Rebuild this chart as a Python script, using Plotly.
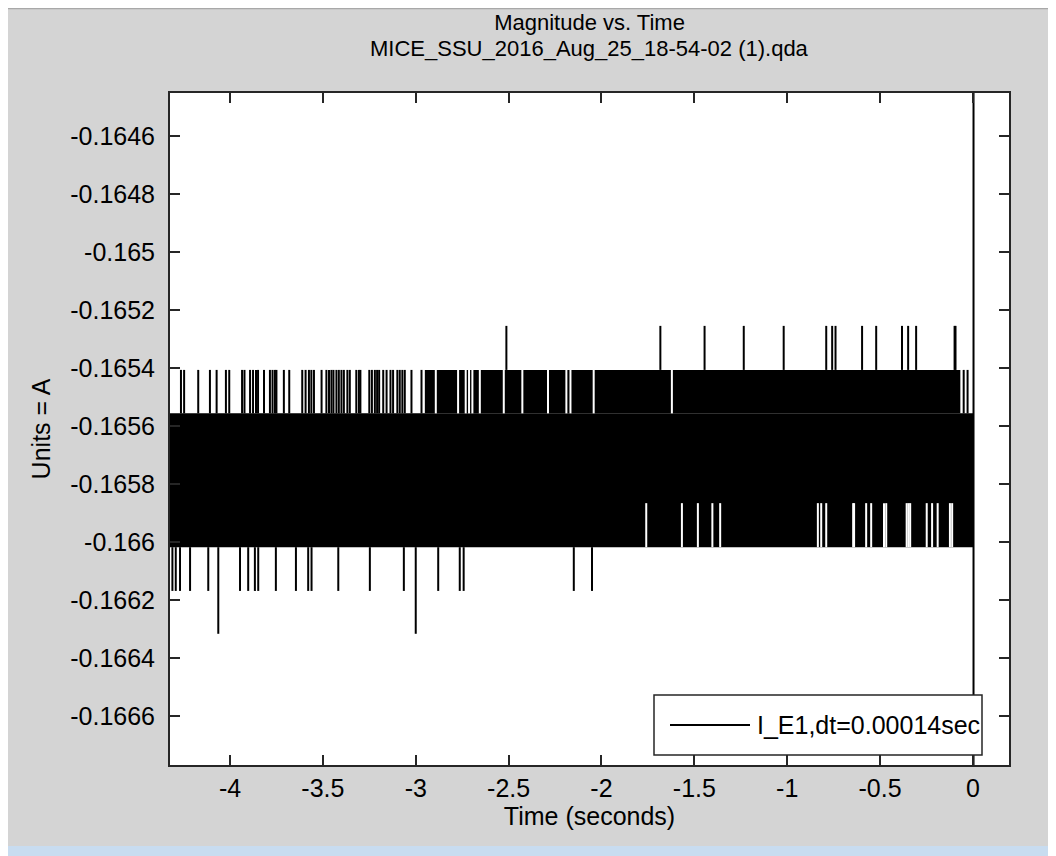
import plotly.graph_objects as go

# ---------------- data ----------------
title_lines = ["Magnitude vs. Time", "MICE_SSU_2016_Aug_25_18-54-02 (1).qda"]
x_title = "Time (seconds)"
y_title = "Units = A"
series_name = "I_E1,dt=0.00014sec"

x_tick_vals = [-4, -3.5, -3, -2.5, -2, -1.5, -1, -0.5, 0]
x_tick_text = ["-4", "-3.5", "-3", "-2.5", "-2", "-1.5", "-1", "-0.5", "0"]
y_tick_vals = [-0.1666, -0.1664, -0.1662, -0.1660, -0.1658, -0.1656,
               -0.1654, -0.1652, -0.1650, -0.1648, -0.1646]
y_tick_text = ["-0.1666", "-0.1664", "-0.1662", "-0.166", "-0.1658", "-0.1656",
               "-0.1654", "-0.1652", "-0.165", "-0.1648", "-0.1646"]

x_range = [-4.323, 0.194]
y_range = [-0.16677, -0.16445]

# quantised current levels of the signal (A)
level_high = -0.165254
level_upper = -0.165406
level_band_top = -0.165556
level_inner_low = -0.165866
level_band_bottom = -0.166018
level_low = -0.166169
level_very_low = -0.166317
level_off_top = -0.1640      # signal leaves the window at the end of record
level_off_bottom = -0.1672

# time span of the record and of the region where the upper level is dense
record_start = -4.323
record_end = 0.003
upper_dense_start = -2.951
upper_dense_end = -0.068

# sample times (s) of excursions to each level
upper_spike_times = [-4.264, -4.247, -4.171, -4.108, -4.072, -4.022, -4.004, -3.935,
                     -3.922, -3.892, -3.876, -3.860, -3.849, -3.817, -3.785, -3.771,
                     -3.758, -3.750, -3.710, -3.681, -3.611, -3.593, -3.575, -3.562,
                     -3.548, -3.507, -3.481, -3.467, -3.454, -3.443, -3.427, -3.414,
                     -3.400, -3.387, -3.368, -3.355, -3.320, -3.306, -3.298, -3.250,
                     -3.236, -3.220, -3.208, -3.197, -3.175, -3.157, -3.136, -3.122,
                     -3.099, -3.086, -3.072, -3.059, -3.023, -2.969, -0.050, -0.029]
upper_gap_times = [-2.892, -2.772, -2.731, -2.713, -2.695, -2.655, -2.526, -2.426,
                   -2.288, -2.189, -2.167, -2.042, -1.621]
high_spike_times = [-2.512, -1.683, -1.445, -1.234, -1.019, -0.790, -0.758, -0.740,
                    -0.597, -0.521, -0.382, -0.349, -0.306, -0.099, -0.094]
low_spike_times = [-4.310, -4.292, -4.269, -4.215, -4.117, -3.946, -3.902, -3.866,
                   -3.848, -3.753, -3.645, -3.579, -3.561, -3.417, -3.247, -3.064,
                   -2.879, -2.763, -2.742, -2.149, -2.051]
very_low_spike_times = [-4.063, -3.000]
lower_gap_times = [-1.759, -1.567, -1.481, -1.403, -1.361, -0.835, -0.817, -0.790,
                   -0.645, -0.640, -0.575, -0.548, -0.479, -0.467, -0.357, -0.347,
                   -0.338, -0.249, -0.220, -0.190, -0.124, -0.112]

# ---------------- styling ----------------
FONT = "Liberation Sans"
FS = 25
FS_TITLE = 22
INK = "#000000"
AXC = "#262626"
W, H = 1056, 856
OFF = 8                      # page offset of the figure (body margin)
ML, MR, MT, MB = 162, 55, 85, 99


def segs(times, y0, y1):
    xs, ys = [], []
    for t in times:
        xs += [t, t, None]
        ys += [y0, y1, None]
    return xs, ys


def rect(t0, t1, y0, y1):
    return [t0, t1, t1, t0, t0], [y0, y0, y1, y1, y0]


fig = go.Figure()

# solid body of the rapidly toggling signal
bx, by = rect(record_start, record_end, level_band_bottom, level_band_top)
fig.add_trace(go.Scatter(x=bx, y=by, mode="lines", fill="toself", fillcolor=INK,
                         line=dict(width=0, color=INK), hoverinfo="skip", showlegend=False))
ux, uy = rect(upper_dense_start, upper_dense_end, level_band_top, level_upper)
fig.add_trace(go.Scatter(x=ux, y=uy, mode="lines", fill="toself", fillcolor=INK,
                         line=dict(width=0, color=INK), hoverinfo="skip", showlegend=False))

# columns where the signal did not reach a level
gx1, gy1 = segs(lower_gap_times, level_band_bottom, level_inner_low)
gx2, gy2 = segs(upper_gap_times, level_band_top, level_upper)
fig.add_trace(go.Scatter(x=gx1 + gx2, y=gy1 + gy2, mode="lines",
                         line=dict(width=2, color="white"), hoverinfo="skip", showlegend=False))

# excursions
sx, sy = [], []
for times, a, b in [(upper_spike_times, level_band_top, level_upper),
                    (high_spike_times, level_upper, level_high),
                    (low_spike_times, level_band_bottom, level_low),
                    (very_low_spike_times, level_band_bottom, level_very_low),
                    ([record_end], level_off_bottom, level_off_top)]:
    xx, yy = segs(times, a, b)
    sx += xx
    sy += yy
fig.add_trace(go.Scatter(x=sx, y=sy, mode="lines", name=series_name,
                         line=dict(width=2, color=INK), showlegend=False))

axis_common = dict(
    showgrid=False, zeroline=False, showline=True, linecolor=AXC, linewidth=2,
    mirror="ticks", ticks="inside", ticklen=10, tickwidth=1.5, tickcolor=AXC,
    tickfont=dict(family=FONT, size=FS, color=INK),
)

fig.update_xaxes(range=x_range, tickmode="array", tickvals=x_tick_vals, ticktext=x_tick_text,
                 title=dict(text=x_title, font=dict(family=FONT, size=FS, color=INK), standoff=6),
                 ticklabelstandoff=0, **axis_common)
fig.update_yaxes(range=y_range, tickmode="array", tickvals=y_tick_vals, ticktext=y_tick_text,
                 title=dict(text=y_title, font=dict(family=FONT, size=FS, color=INK), standoff=12),
                 ticklabelstandoff=8, **axis_common)

pw, ph = W - ML - MR, H - MT - MB


def px_x(x):
    """page x pixel -> paper coordinate"""
    return (x - OFF - ML) / pw


def px_y(y):
    """page y pixel -> paper coordinate"""
    return (H - MB - (y - OFF)) / ph


shapes = [
    # window chrome: top border line and blue bottom strip
    dict(type="line", xref="paper", yref="paper", x0=px_x(0), x1=px_x(W + OFF), y0=px_y(OFF + 0.5),
         y1=px_y(OFF + 0.5), line=dict(color="#a8a8a8", width=1.5), layer="below"),
    dict(type="rect", xref="paper", yref="paper", x0=px_x(0), x1=px_x(W + OFF), y0=px_y(H + OFF),
         y1=px_y(846), fillcolor="#c8dcf0", line=dict(width=0), layer="below"),
    # legend box
    dict(type="rect", xref="paper", yref="paper", x0=px_x(654), x1=px_x(982), y0=px_y(755), y1=px_y(695),
         fillcolor="white", line=dict(color=AXC, width=1.5), layer="above"),
    dict(type="line", xref="paper", yref="paper", x0=px_x(670), x1=px_x(750), y0=px_y(725), y1=px_y(725),
         line=dict(color=INK, width=2), layer="above"),
]

# legend entry text
fig.add_annotation(x=px_x(755), y=px_y(725), xref="paper", yref="paper", xanchor="left",
                   yanchor="middle", text=series_name, showarrow=False,
                   font=dict(family=FONT, size=FS, color=INK))

# second title line (file name)
fig.add_annotation(x=0.5, y=px_y(48.5), xref="paper", yref="paper", xanchor="center",
                   yanchor="middle", text=title_lines[1], showarrow=False,
                   font=dict(family=FONT, size=FS_TITLE, color=INK))

fig.update_layout(
    width=W, height=H, margin=dict(l=ML, r=MR, t=MT, b=MB),
    paper_bgcolor="#d4d4d4", plot_bgcolor="white",
    shapes=shapes, showlegend=False,
    title=dict(text=title_lines[0], x=0.5, xref="paper", xanchor="center",
               y=1 - (22 - OFF) / H, yref="container", yanchor="middle",
               font=dict(family=FONT, size=FS_TITLE, color=INK)),
    font=dict(family=FONT, size=FS, color=INK),
)

fig.write_html("out.html")
